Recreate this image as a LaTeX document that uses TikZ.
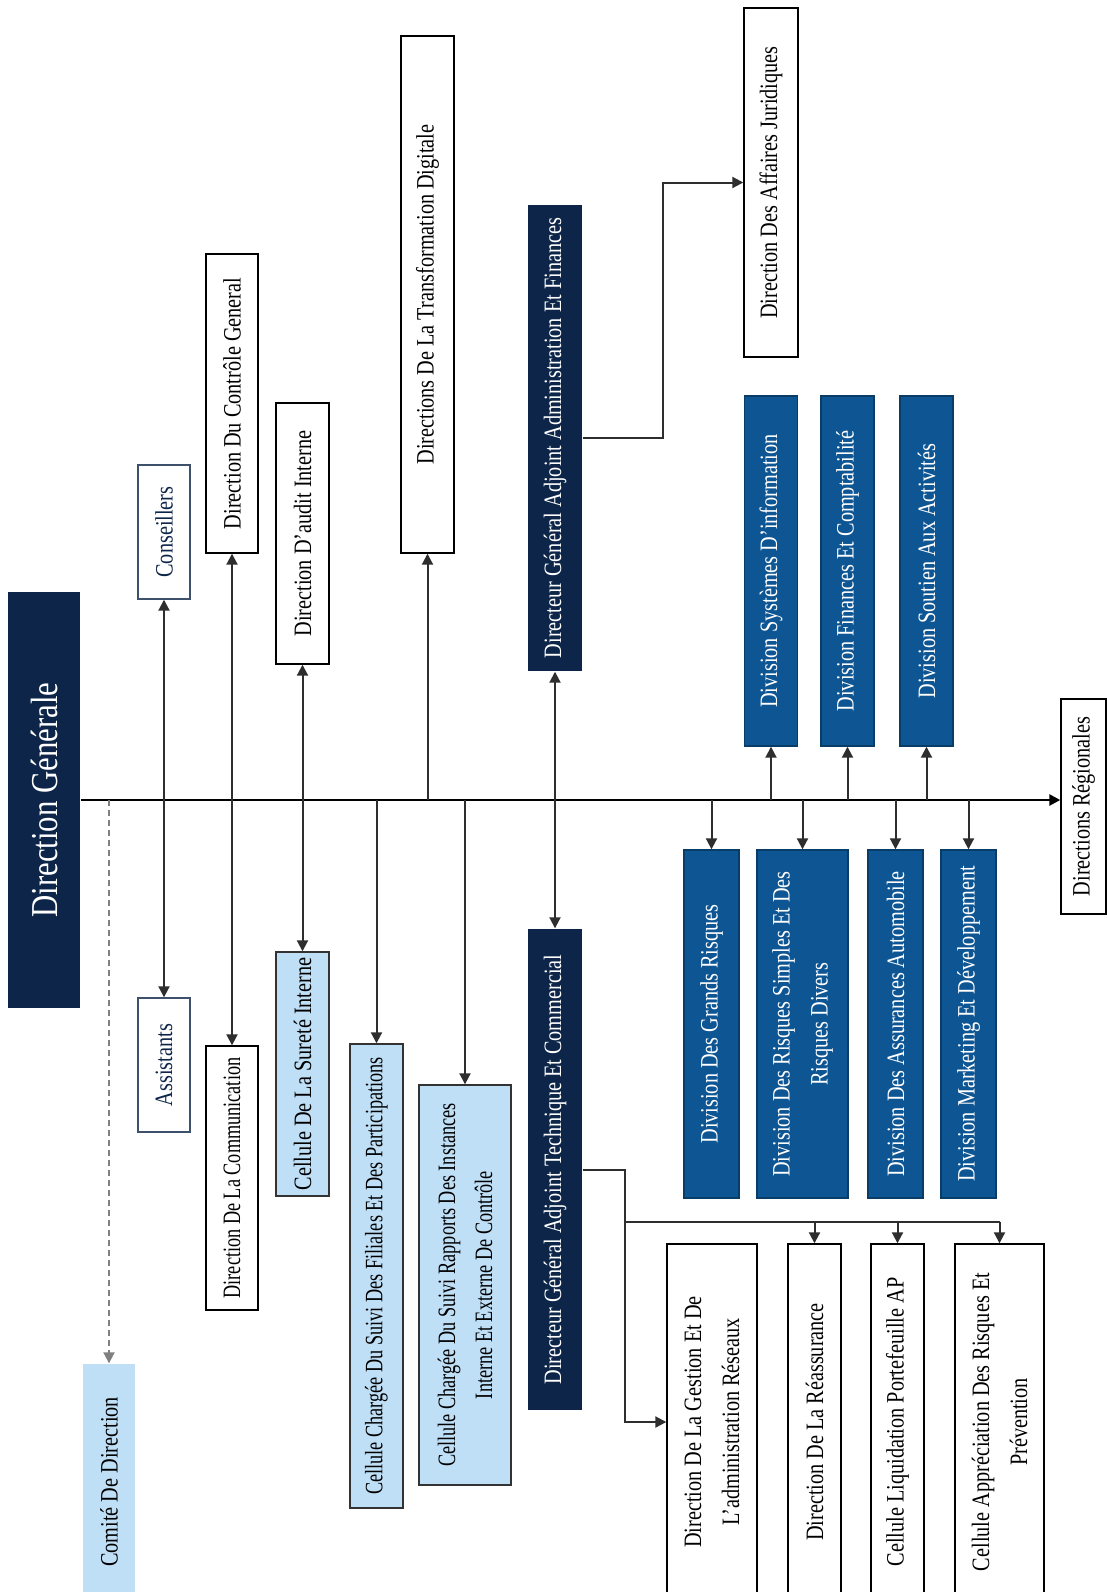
\documentclass[tikz,border=0pt]{standalone}
\usepackage{fontspec}
\setmainfont{Liberation Serif}[FakeStretch=0.81]
\newfontfamily\narrowfont{Liberation Serif}[FakeStretch=0.73]
\usetikzlibrary{arrows.meta}
\definecolor{navy}{HTML}{0C2548}
\definecolor{divblue}{HTML}{0E5594}
\definecolor{paleblue}{HTML}{BFDFF6}
\definecolor{linegray}{HTML}{2E2E2E}

\begin{document}
\begin{tikzpicture}[x=1pt,y=-1pt,>={Triangle[length=11pt,width=11pt]}]
    \tikzstyle{unit}=[rotate=90, inner sep=0pt, align=center, line width=1.4pt, font=\fontsize{25pt}{38pt}\selectfont]
    \tikzstyle{small text}=[font=\narrowfont\fontsize{25pt}{37pt}\selectfont]
    \tikzstyle{plain unit}=[unit, draw=black, fill=white]
    \tikzstyle{cell unit}=[unit, draw=black!80, fill=paleblue]
    \tikzstyle{staff unit}=[unit, draw=navy!80, fill=white, text=navy]
    \tikzstyle{head unit}=[unit, fill=navy, text=white]
    \tikzstyle{division}=[unit, fill=divblue, draw=divblue!70!black, text=white]
    \tikzstyle{link}=[->, draw=linegray, line width=2pt]
    \tikzset{dims/.style 2 args={minimum width=#1pt, minimum height=#2pt}}

    \path[use as bounding box, fill=white] (0,0) rectangle (1107,1592);

    % Head of the chart
    \node[head unit, dims={416}{72}, font=\fontsize{38pt}{40pt}\selectfont] (dg) at (44,800) {Direction Générale};
    \node[plain unit, dims={215}{45}] (reg) at (1083.5,806.5) {Directions Régionales};

    % Units above the main line
    \node[staff unit, dims={134}{52}] (cons) at (164,532) {Conseillers};
    \node[plain unit, dims={299}{52}] (ctrl) at (232,403.5) {Direction Du Contrôle General};
    \node[plain unit, dims={261}{53}] (audit) at (302.5,533.5) {Direction D’audit Interne};
    \node[plain unit, dims={517}{53}] (trans) at (427.5,294.5) {Directions De La Transformation Digitale};
    \node[head unit, dims={466}{54}] (dgaa) at (555,438) {Directeur Général Adjoint Administration Et Finances};
    \node[plain unit, dims={349}{54}] (jur) at (771,182.5) {Direction Des Affaires Juridiques};
    \foreach \name/\x/\txt in {sys/771/{Division Systèmes D’information},fin/847.5/{Division Finances Et Comptabilité},sout/926.5/{Division Soutien Aux Activités}}
        \node[division, dims={350}{53}] (\name) at (\x,571) {\txt};

    % Units below the main line
    \node[staff unit, dims={134}{52}] (assi) at (164,1065) {Assistants};
    \node[plain unit, small text, dims={264}{52}] (comm) at (232,1178) {Direction De La Communication};
    \node[cell unit, dims={244}{53}] (sur) at (302.5,1074) {Cellule De La Sureté Interne};
    \node[cell unit, small text, dims={464}{53}] (fil) at (376.5,1276) {Cellule Chargée Du Suivi Des Filiales Et Des Participations};
    \node[cell unit, small text, dims={400}{92}] (rap) at (465,1285) {Cellule Chargée Du Suivi Rapports Des Instances\\Interne Et Externe De Contrôle};
    \node[head unit, dims={481}{54}] (dgat) at (555,1169.5) {Directeur Général Adjoint Technique Et Commercial};
    \foreach \name/\x/\w/\txt in {grand/711.5/55/{Division Des Grands Risques},simp/802.5/91/{Division Des Risques Simples Et Des\\Risques Divers},auto/895.5/55/{Division Des Assurances Automobile},mark/968.5/55/{Division Marketing Et Développement}}
        \node[division, dims={348}{\w}] (\name) at (\x,1024) {\txt};
    \foreach \name/\x/\w/\txt in {gest/712/90/{Direction De La Gestion Et De\\L’administration Réseaux},reas/814.5/53/{Direction De La Réassurance},liq/897.5/53/{Cellule Liquidation Portefeuille AP},appr/999.5/89/{Cellule Appréciation Des Risques Et\\Prévention}}
        \node[plain unit, dims={356}{\w}] (\name) at (\x,1422) {\txt};
    \node[unit, fill=paleblue, dims={236}{52}] (comite) at (109,1482) {Comité De Direction};

    % Main line
    \draw[->, line width=2.6pt] (dg.south) -- (dg.south -| reg.north);
    \draw[->, draw=gray, line width=2pt, dash pattern=on 6pt off 4pt] (comite.east |- dg.center) -- (comite.east);

    % Links through the main line
    \foreach \up/\down in {cons/assi,ctrl/comm,audit/sur,dgaa/dgat}
        \draw[link, <->] (\up.west) -- (\down.east);
    \foreach \name in {trans,sys,fin,sout}
        \draw[link] (\name.west |- dg.center) -- (\name.west);
    \foreach \name in {fil,rap,grand,simp,auto,mark}
        \draw[link] (\name.east |- dg.center) -- (\name.east);

    % Links of the two deputies
    \draw[link] (dgaa.south) -- ++(80,0) |- (jur.north);
    \draw[link] (dgat.south) -- ++(42,0) coordinate (tee) |- (gest.north);
    \path (tee) ++(0,52) coordinate (fork);
    \draw[draw=linegray, line width=2pt] (fork) -- (fork -| appr.east);
    \foreach \name in {reas,liq,appr}
        \draw[link] (fork -| \name.east) -- (\name.east);
\end{tikzpicture}
\end{document}
